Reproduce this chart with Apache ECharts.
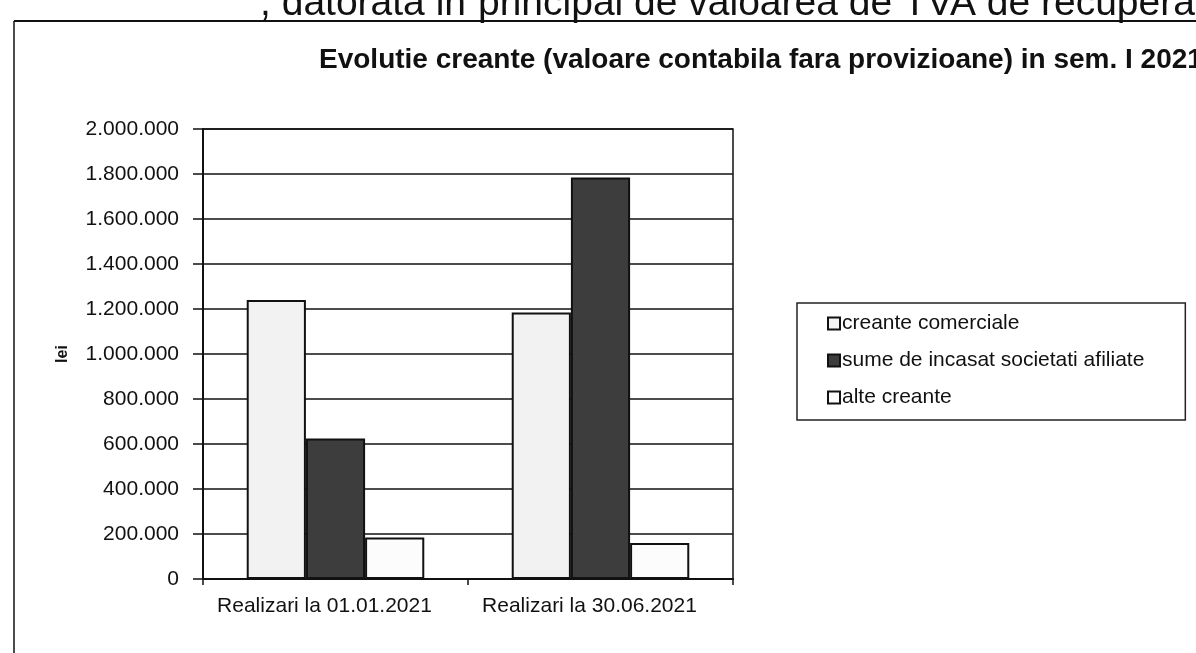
<!DOCTYPE html>
<html>
<head>
<meta charset="utf-8">
<script src="https://cdn.jsdelivr.net/npm/echarts@6/dist/echarts.min.js"></script>
<style>
  html, body { margin: 0; padding: 0; background: #fff; }
  #chart { width: 1196px; height: 653px; }
</style>
</head>
<body>
<div id="chart"></div>
<script>
const categories = ['Realizari la 01.01.2021', 'Realizari la 30.06.2021'];
const seriesNames = ['creante comerciale', 'sume de incasat societati afiliate', 'alte creante'];
const creanteComerciale = [1240000, 1185000];
const sumeAfiliate = [625000, 1785000];
const alteCreante = [185000, 160000];

const font = 'Arial, "Liberation Sans", sans-serif';

// 1234567 -> 1.234.567
const fmt = v => String(v).replace(/\B(?=(\d{3})+(?!\d))/g, '.');

let myChart = echarts.init(document.getElementById('chart'));

const barBorder = { borderColor: '#111', borderWidth: 2 };

let option = {
  backgroundColor: '#fff',
  animation: false,
  textStyle: { fontFamily: font },
  title: {
    text: 'Evolutie creante (valoare contabila fara provizioane) in sem. I 2021',
    left: 314,
    top: 41,
    textStyle: { fontSize: 28, fontWeight: 'bold', color: '#111', fontFamily: font }
  },
  legend: {
    orient: 'vertical',
    left: 797,
    top: 303,
    padding: [10, 41, 12, 30],
    itemGap: 16,
    itemWidth: 12,
    itemHeight: 12,
    borderColor: '#222',
    borderWidth: 1.5,
    icon: 'rect',
    textStyle: { fontSize: 21, color: '#111', fontFamily: font, padding: [0, 0, 0, -3] },
    data: seriesNames
  },
  grid: {
    left: 203,
    right: 463,
    top: 129,
    bottom: 74,
    show: true,
    borderColor: '#111',
    borderWidth: 1.5
  },
  xAxis: {
    type: 'category',
    data: categories,
    axisLine: { lineStyle: { color: '#111', width: 2 } },
    axisTick: { show: true, length: 6, lineStyle: { color: '#111', width: 1.5 } },
    axisLabel: { interval: 0, fontSize: 21, color: '#111', margin: 17, padding: [0, 22, 0, 0], fontFamily: font }
  },
  yAxis: {
    type: 'value',
    min: 0,
    max: 2000000,
    interval: 200000,
    name: 'lei',
    nameLocation: 'middle',
    nameGap: 132,
    nameRotate: 90,
    nameTextStyle: { fontSize: 16, fontWeight: 'bold', color: '#111', fontFamily: font },
    axisLine: { show: true, lineStyle: { color: '#111', width: 2 } },
    axisTick: { show: true, length: 10, lineStyle: { color: '#111', width: 1.5 } },
    axisLabel: { fontSize: 21, color: '#111', margin: 24, fontFamily: font, formatter: fmt },
    splitLine: { lineStyle: { color: '#111', width: 1.5 } }
  },
  series: [
    {
      name: seriesNames[0],
      type: 'bar',
      data: creanteComerciale,
      barGap: 0,
      barCategoryGap: '33%',
      itemStyle: Object.assign({ color: '#f2f2f2' }, barBorder)
    },
    {
      name: seriesNames[1],
      type: 'bar',
      data: sumeAfiliate,
      itemStyle: Object.assign({ color: '#3d3d3d' }, barBorder)
    },
    {
      name: seriesNames[2],
      type: 'bar',
      data: alteCreante,
      itemStyle: Object.assign({ color: '#fcfcfc' }, barBorder)
    }
  ],
  graphic: [
    // page text above the chart, cut off by the scan
    {
      type: 'text',
      style: {
        x: 466, y: 24,
        text: ', datorata in',
        textAlign: 'right',
        verticalAlign: 'bottom',
        fontSize: 39,
        fontFamily: font,
        fill: '#111'
      }
    },
    {
      type: 'text',
      style: {
        x: 478, y: 24,
        text: 'principal de valoarea de TVA de recuperat',
        textAlign: 'left',
        verticalAlign: 'bottom',
        fontSize: 39,
        fontFamily: font,
        fill: '#111'
      }
    },
    {
      type: 'line',
      shape: { x1: 14, y1: 21, x2: 1196, y2: 21 },
      style: { stroke: '#111', lineWidth: 2 }
    },
    {
      type: 'line',
      shape: { x1: 14, y1: 21, x2: 14, y2: 653 },
      style: { stroke: '#111', lineWidth: 1.5 }
    }
  ]
};

option && myChart.setOption(option);
</script>
</body>
</html>
